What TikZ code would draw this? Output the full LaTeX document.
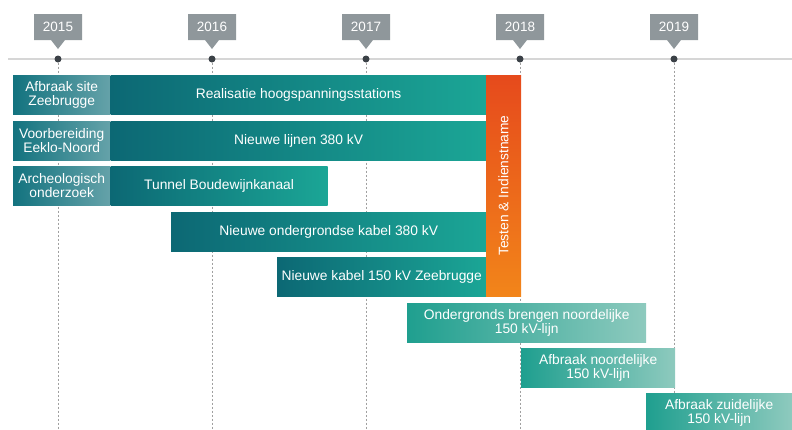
\documentclass[tikz,border=0pt]{standalone}
\usepackage{fontspec}
\setmainfont{Liberation Sans}
\usetikzlibrary{shapes.callouts}

\definecolor{tealdark}{HTML}{0C6874}
\definecolor{teallight}{HTML}{1BA696}
\definecolor{prepdark}{HTML}{13737F}
\definecolor{preplight}{HTML}{65A2A9}
\definecolor{lowdark}{HTML}{1F9F8F}
\definecolor{lowlight}{HTML}{8ECABE}
\definecolor{testtop}{HTML}{E64A1C}
\definecolor{testbottom}{HTML}{F2851A}
\definecolor{yeargray}{HTML}{8F979B}
\definecolor{axisgray}{HTML}{D6D6D6}
\definecolor{dotgray}{HTML}{3B4147}
\definecolor{gridgray}{HTML}{A0A0A0}

\begin{document}
\begin{tikzpicture}[x=1pt,y=-1pt,
  every node/.style={font=\fontsize{13.8}{14}\selectfont, text=white},
  bar/.style={anchor=north west, minimum height=39pt, inner sep=0pt, align=center,
    left color=tealdark, right color=teallight},
  prep/.style={bar, minimum width=97pt, left color=prepdark, middle color=prepdark,
    right color=preplight},
  later/.style={bar, left color=lowdark, right color=lowlight},
  testbar/.style={inner sep=0pt, top color=testtop, bottom color=testbottom},
  yearbox/.style={rectangle callout, fill=yeargray, minimum width=48pt, minimum height=26pt,
    inner sep=0pt, callout pointer width=14pt, font=\fontsize{13.5}{14}\selectfont},
  dot/.style={circle, fill=dotgray, minimum size=7pt, inner sep=0pt},
  gridline/.style={draw=gridgray, dash pattern=on 2pt off 2pt, line width=0.6pt},
  axis/.style={draw=axisgray, line width=1.5pt}]

  \useasboundingbox (0,0) rectangle (792,429);
  \clip (0,0) rectangle (792,429);

  % time axis
  \coordinate (axisL) at (8,59);
  \coordinate (axisR) at (792,59);
  \coordinate (bottom) at (0,429);
  \draw[axis] (axisL) -- (axisR);

  % years with dashed guides
  \foreach \yr/\xx in {2015/58,2016/212,2017/366,2018/520,2019/674}{
    \node[dot] (dot\yr) at (\xx,59) {};
    \draw[gridline] (dot\yr) -- (dot\yr |- bottom);
    \node[yearbox, callout absolute pointer={(\xx,49)}] (year\yr) at (\xx,27) {\yr};
  }

  % preparation and first works
  \node[prep] (afbraak) at (13,75) {Afbraak site\\Zeebrugge};
  \node[bar, minimum width=376pt] (realisatie) at (afbraak.north east) {Realisatie hoogspanningsstations};
  \node[prep] (voorbereiding) at (13,121) {Voorbereiding\\Eeklo-Noord};
  \node[bar, minimum width=376pt] (lijnen) at (voorbereiding.north east) {Nieuwe lijnen 380 kV};
  \node[prep] (archeo) at (13,166) {Archeologisch\\onderzoek};
  \node[bar, minimum width=217pt] (tunnel) at (archeo.north east) {Tunnel Boudewijnkanaal};
  \node[bar, minimum width=315pt] (kabel380) at (171,212) {Nieuwe ondergrondse kabel 380 kV};
  \node[bar, minimum width=209pt] (kabel150) at (277,257) {Nieuwe kabel 150 kV Zeebrugge};

  % testing
  \node[testbar, minimum width=221pt, minimum height=35pt, rotate=90] (testen) at (503.5,185.5) {Testen \& Indienstname};

  % later works
  \node[later, minimum width=239pt] (ondergronds) at (407,303) {Ondergronds brengen noordelijke\\150 kV-lijn};
  \node[later, minimum width=154pt] (afbraaknoord) at (521,348) {Afbraak noordelijke\\150 kV-lijn};
  \node[later, minimum width=146pt] (afbraakzuid) at (646,393) {Afbraak zuidelijke\\150 kV-lijn};

\end{tikzpicture}
\end{document}
